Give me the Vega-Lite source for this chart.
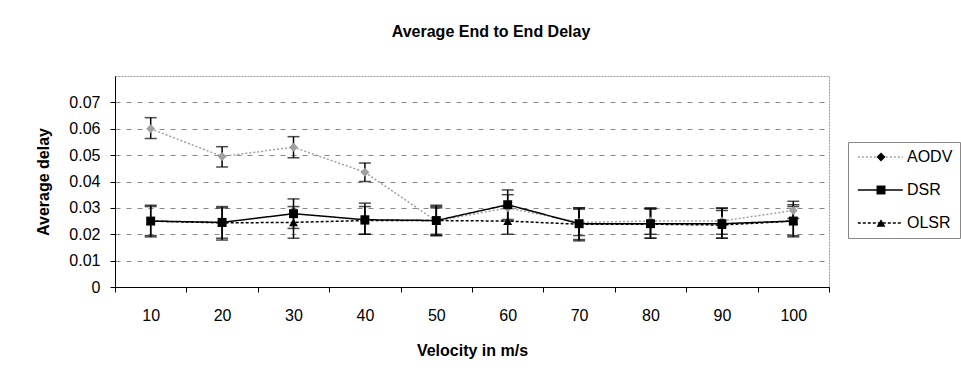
{
  "$schema": "https://vega.github.io/schema/vega-lite/v6.json",
  "width": 714,
  "height": 211,
  "autosize": {"type": "none"},
  "padding": {"left": 115, "top": 76, "right": 132, "bottom": 96},
  "background": "white",
  "config": {
    "font": "Liberation Sans",
    "view": {"stroke": "#999", "strokeDash": [2, 1]},
    "axis": {"labelFont": "Liberation Sans", "titleFont": "Liberation Sans", "labelColor": "#000", "titleColor": "#000", "domainColor": "#000", "tickColor": "#000"},
    "axisY": {"grid": true, "gridDash": [5, 6], "gridColor": "#888", "tickSize": 5, "labelPadding": 10, "labelOverlap": false,
      "labelFontSize": 16, "titleFontSize": 16, "titleFontWeight": "bold", "titlePadding": 17}
  },
  "title": {"text": "Average End to End Delay", "font": "Liberation Sans", "fontSize": 16, "fontWeight": "bold", "anchor": "middle", "dx": 19, "offset": 36, "color": "#000"},
  "data": {
    "values": [
      {"v": 10, "s": "AODV", "y": 0.060, "lo": 0.0563, "hi": 0.0642},
      {"v": 20, "s": "AODV", "y": 0.0495, "lo": 0.0455, "hi": 0.0532},
      {"v": 30, "s": "AODV", "y": 0.053, "lo": 0.049, "hi": 0.057},
      {"v": 40, "s": "AODV", "y": 0.0435, "lo": 0.040, "hi": 0.047},
      {"v": 50, "s": "AODV", "y": 0.025, "lo": 0.0195, "hi": 0.0305},
      {"v": 60, "s": "AODV", "y": 0.030, "lo": 0.025, "hi": 0.035},
      {"v": 70, "s": "AODV", "y": 0.0245, "lo": 0.0195, "hi": 0.0295},
      {"v": 80, "s": "AODV", "y": 0.025, "lo": 0.020, "hi": 0.030},
      {"v": 90, "s": "AODV", "y": 0.025, "lo": 0.020, "hi": 0.030},
      {"v": 100, "s": "AODV", "y": 0.029, "lo": 0.026, "hi": 0.0325},
      {"v": 10, "s": "DSR", "y": 0.025, "lo": 0.019, "hi": 0.031},
      {"v": 20, "s": "DSR", "y": 0.0245, "lo": 0.0185, "hi": 0.0305},
      {"v": 30, "s": "DSR", "y": 0.0278, "lo": 0.0222, "hi": 0.0334},
      {"v": 40, "s": "DSR", "y": 0.0255, "lo": 0.020, "hi": 0.0318},
      {"v": 50, "s": "DSR", "y": 0.0252, "lo": 0.020, "hi": 0.031},
      {"v": 60, "s": "DSR", "y": 0.0312, "lo": 0.0256, "hi": 0.0368},
      {"v": 70, "s": "DSR", "y": 0.024, "lo": 0.018, "hi": 0.030},
      {"v": 80, "s": "DSR", "y": 0.024, "lo": 0.0185, "hi": 0.0298},
      {"v": 90, "s": "DSR", "y": 0.024, "lo": 0.0185, "hi": 0.0298},
      {"v": 100, "s": "DSR", "y": 0.025, "lo": 0.019, "hi": 0.0312},
      {"v": 10, "s": "OLSR", "y": 0.025, "lo": 0.0195, "hi": 0.0305},
      {"v": 20, "s": "OLSR", "y": 0.0243, "lo": 0.0178, "hi": 0.030},
      {"v": 30, "s": "OLSR", "y": 0.0245, "lo": 0.0185, "hi": 0.0305},
      {"v": 40, "s": "OLSR", "y": 0.0252, "lo": 0.020, "hi": 0.0305},
      {"v": 50, "s": "OLSR", "y": 0.0252, "lo": 0.0195, "hi": 0.030},
      {"v": 60, "s": "OLSR", "y": 0.025, "lo": 0.020, "hi": 0.0305},
      {"v": 70, "s": "OLSR", "y": 0.0238, "lo": 0.0175, "hi": 0.030},
      {"v": 80, "s": "OLSR", "y": 0.0238, "lo": 0.0185, "hi": 0.0295},
      {"v": 90, "s": "OLSR", "y": 0.0235, "lo": 0.0185, "hi": 0.029},
      {"v": 100, "s": "OLSR", "y": 0.025, "lo": 0.0195, "hi": 0.0305}
    ]
  },
  "layer": [
    {
      "mark": {"type": "rule", "color": "#000", "strokeWidth": 1.5},
      "encoding": {
        "x": {"field": "v", "type": "ordinal", "scale": {"type": "band", "paddingInner": 0, "paddingOuter": 0},
          "axis": {"tickBand": "extent", "ticks": true, "tickSize": 5, "domain": true, "grid": false, "labelPadding": 15,
            "labelFontSize": 16, "labelAngle": 0, "title": "Velocity in m/s", "titleFontSize": 16, "titleFontWeight": "bold", "titlePadding": 19}},
        "y": {"field": "lo", "type": "quantitative", "scale": {"domain": [0, 0.07]},
          "axis": {"title": "Average delay", "values": [0, 0.01, 0.02, 0.03, 0.04, 0.05, 0.06, 0.07], "labelExpr": "datum.value == 0 ? '0' : format(datum.value, '.2f')"}},
        "y2": {"field": "hi"}
      }
    },
    {
      "transform": [{"filter": "datum.y > 0"}],
      "mark": {"type": "line", "strokeWidth": 1.5},
      "encoding": {
        "x": {"field": "v", "type": "ordinal"},
        "y": {"field": "y", "type": "quantitative",
          "axis": {"title": "Average delay", "values": [0, 0.01, 0.02, 0.03, 0.04, 0.05, 0.06, 0.07], "labelExpr": "datum.value == 0 ? '0' : format(datum.value, '.2f')"}},
        "color": {"field": "s", "type": "nominal", "scale": {"range": ["#a0a0a0", "#000000", "#000000"]}, "legend": null},
        "strokeDash": {"field": "s", "type": "nominal", "scale": {"range": [[2, 2], [1, 0], [3, 2]]},
          "legend": {"title": null, "orient": "none", "legendX": 733, "legendY": 66, "padding": 7,
            "symbolType": "M-1.16,0H8.9", "symbolSize": 80, "symbolStrokeWidth": 1.5,
            "labelFont": "Liberation Sans", "labelFontSize": 16, "labelColor": "#000", "labelOffset": 36, "rowPadding": 17,
            "strokeColor": "#888",
            "encode": {
              "symbols": {"update": {"stroke": {"scale": "color", "field": "value"}, "fill": {"value": "transparent"}}}
            }}}
      }
    },
    {
      "mark": {"type": "tick", "orient": "horizontal", "color": "#000", "thickness": 1.5, "size": 12},
      "encoding": {
        "x": {"field": "v", "type": "ordinal"},
        "y": {"field": "lo", "type": "quantitative",
          "axis": {"title": "Average delay", "values": [0, 0.01, 0.02, 0.03, 0.04, 0.05, 0.06, 0.07], "labelExpr": "datum.value == 0 ? '0' : format(datum.value, '.2f')"}}
      }
    },
    {
      "mark": {"type": "tick", "orient": "horizontal", "color": "#000", "thickness": 1.5, "size": 12},
      "encoding": {
        "x": {"field": "v", "type": "ordinal"},
        "y": {"field": "hi", "type": "quantitative",
          "axis": {"title": "Average delay", "values": [0, 0.01, 0.02, 0.03, 0.04, 0.05, 0.06, 0.07], "labelExpr": "datum.value == 0 ? '0' : format(datum.value, '.2f')"}}
      }
    },
    {
      "mark": {"type": "point", "filled": true, "size": 80, "opacity": 1},
      "encoding": {
        "x": {"field": "v", "type": "ordinal"},
        "y": {"field": "y", "type": "quantitative",
          "axis": {"title": "Average delay", "values": [0, 0.01, 0.02, 0.03, 0.04, 0.05, 0.06, 0.07], "labelExpr": "datum.value == 0 ? '0' : format(datum.value, '.2f')"}},
        "color": {"field": "s", "type": "nominal", "legend": null},
        "shape": {"field": "s", "type": "nominal", "scale": {"range": ["diamond", "square", "triangle-up"]},
          "legend": {"title": null, "orient": "none", "legendX": 751, "legendY": 66, "padding": 7,
            "symbolSize": 80, "symbolStrokeWidth": 1.5,
            "labelFont": "Liberation Sans", "labelFontSize": 16, "labelOffset": 4, "rowPadding": 17, "labelExpr": "''",
            "encode": {
              "symbols": {"update": {"fill": {"scale": "color", "field": "value"}, "stroke": {"scale": "color", "field": "value"}, "opacity": {"value": 1}}}
            }}}
      }
    }
  ]
}
